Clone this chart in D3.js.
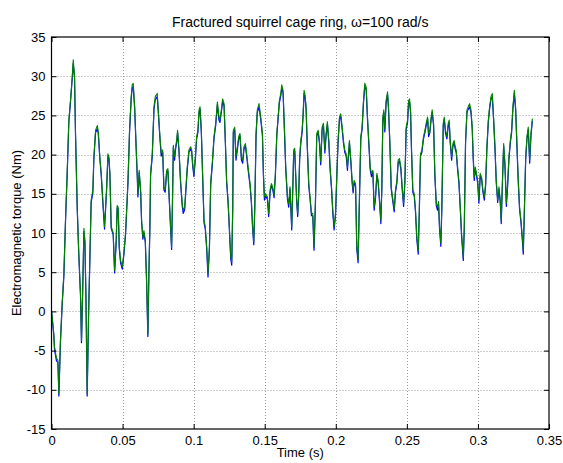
<!DOCTYPE html>
<html>
<head>
<meta charset="utf-8">
<script src="https://cdn.jsdelivr.net/npm/d3@7"></script>
<style>
  body { margin: 0; background: #fff; }
  svg text { font-family: "Liberation Sans", Arial, Helvetica, sans-serif; fill: #000; }
</style>
</head>
<body>
<svg id="chart" width="563" height="463"></svg>
<script>
// Sample times (s)
const timeS = [
  0.0000, 0.0016, 0.0021, 0.0035, 0.0045, 0.0052, 0.0063, 0.0075, 0.0087, 0.0099,
  0.0110, 0.0122, 0.0134, 0.0146, 0.0153, 0.0162, 0.0169, 0.0181, 0.0192, 0.0204,
  0.0211, 0.0218, 0.0228, 0.0235, 0.0242, 0.0251, 0.0261, 0.0270, 0.0279, 0.0291,
  0.0298, 0.0310, 0.0322, 0.0329, 0.0340, 0.0350, 0.0361, 0.0373, 0.0387, 0.0397,
  0.0404, 0.0411, 0.0420, 0.0434, 0.0444, 0.0455, 0.0462, 0.0469, 0.0477, 0.0486,
  0.0498, 0.0509, 0.0521, 0.0538, 0.0549, 0.0561, 0.0568, 0.0575, 0.0585, 0.0594,
  0.0603, 0.0608, 0.0617, 0.0627, 0.0634, 0.0643, 0.0650, 0.0660, 0.0669, 0.0678,
  0.0685, 0.0692, 0.0697, 0.0709, 0.0721, 0.0730, 0.0744, 0.0751, 0.0763, 0.0772,
  0.0782, 0.0791, 0.0800, 0.0810, 0.0819, 0.0829, 0.0838, 0.0845, 0.0852, 0.0857,
  0.0866, 0.0873, 0.0880, 0.0887, 0.0897, 0.0908, 0.0920, 0.0927, 0.0937, 0.0946,
  0.0955, 0.0967, 0.0979, 0.0986, 0.0993, 0.1002, 0.1012, 0.1021, 0.1030, 0.1038,
  0.1045, 0.1054, 0.1063, 0.1073, 0.1082, 0.1092, 0.1101, 0.1111, 0.1120, 0.1131,
  0.1143, 0.1155, 0.1167, 0.1178, 0.1185, 0.1195, 0.1204, 0.1214, 0.1223, 0.1232,
  0.1242, 0.1251, 0.1261, 0.1268, 0.1275, 0.1279, 0.1289, 0.1298, 0.1308, 0.1317,
  0.1326, 0.1336, 0.1345, 0.1354, 0.1364, 0.1373, 0.1383, 0.1397, 0.1406, 0.1415,
  0.1423, 0.1430, 0.1439, 0.1448, 0.1460, 0.1472, 0.1484, 0.1491, 0.1498, 0.1507,
  0.1519, 0.1528, 0.1538, 0.1547, 0.1556, 0.1566, 0.1575, 0.1585, 0.1594, 0.1603,
  0.1613, 0.1620, 0.1629, 0.1639, 0.1648, 0.1660, 0.1669, 0.1678, 0.1690, 0.1697,
  0.1704, 0.1711, 0.1718, 0.1725, 0.1732, 0.1739, 0.1746, 0.1754, 0.1763, 0.1770,
  0.1777, 0.1784, 0.1791, 0.1800, 0.1810, 0.1819, 0.1829, 0.1838, 0.1847, 0.1857,
  0.1866, 0.1876, 0.1885, 0.1894, 0.1904, 0.1913, 0.1923, 0.1932, 0.1941, 0.1951,
  0.1960, 0.1970, 0.1979, 0.1988, 0.1998, 0.2007, 0.2016, 0.2026, 0.2035, 0.2045,
  0.2054, 0.2063, 0.2073, 0.2082, 0.2089, 0.2096, 0.2106, 0.2115, 0.2122, 0.2129,
  0.2139, 0.2148, 0.2157, 0.2167, 0.2176, 0.2185, 0.2195, 0.2204, 0.2214, 0.2223,
  0.2232, 0.2242, 0.2251, 0.2261, 0.2270, 0.2279, 0.2289, 0.2298, 0.2308, 0.2317,
  0.2324, 0.2331, 0.2338, 0.2345, 0.2354, 0.2364, 0.2371, 0.2380, 0.2390, 0.2399,
  0.2411, 0.2420, 0.2430, 0.2439, 0.2448, 0.2458, 0.2467, 0.2477, 0.2486, 0.2495,
  0.2505, 0.2512, 0.2519, 0.2526, 0.2533, 0.2542, 0.2552, 0.2561, 0.2570, 0.2580,
  0.2587, 0.2596, 0.2606, 0.2617, 0.2627, 0.2636, 0.2646, 0.2653, 0.2662, 0.2671,
  0.2678, 0.2688, 0.2697, 0.2707, 0.2716, 0.2723, 0.2730, 0.2739, 0.2746, 0.2756,
  0.2763, 0.2772, 0.2782, 0.2791, 0.2798, 0.2805, 0.2815, 0.2824, 0.2833, 0.2840,
  0.2847, 0.2857, 0.2866, 0.2876, 0.2885, 0.2897, 0.2904, 0.2913, 0.2923, 0.2932,
  0.2941, 0.2951, 0.2960, 0.2967, 0.2974, 0.2981, 0.2988, 0.2998, 0.3007, 0.3016,
  0.3026, 0.3035, 0.3045, 0.3054, 0.3063, 0.3073, 0.3082, 0.3092, 0.3101, 0.3110,
  0.3120, 0.3129, 0.3139, 0.3148, 0.3157, 0.3164, 0.3174, 0.3181, 0.3190, 0.3200,
  0.3209, 0.3218, 0.3228, 0.3237, 0.3246, 0.3256, 0.3265, 0.3275, 0.3284, 0.3293,
  0.3303, 0.3312, 0.3319, 0.3326, 0.3336, 0.3345, 0.3354, 0.3364, 0.3373, 0.3383
];

// Torque, first trace (blue), Nm
const torqueBlue = [
  0.0, -3.0, -4.8, -6.3, -6.5, -10.8, -3.9, 0.8, 4.5, 11.7,
  17.3, 24.1, 26.8, 29.7, 31.6, 29.8, 22.5, 13.1, 7.2, 2.0,
  -4.0, 1.3, 10.2, 8.8, 2.1, -10.8, -0.4, 6.7, 13.9, 15.1,
  19.4, 22.8, 23.3, 22.7, 19.5, 17.3, 13.9, 10.5, 15.2, 19.8,
  19.5, 17.4, 10.6, 9.8, 4.9, 8.8, 13.2, 13.1, 8.0, 6.2,
  5.4, 7.2, 9.8, 16.4, 22.8, 27.2, 28.5, 28.7, 25.9, 21.5,
  17.3, 14.6, 17.7, 15.2, 11.3, 9.2, 10.0, 8.8, 3.8, -3.2,
  4.6, 10.5, 17.3, 19.8, 25.8, 27.0, 27.4, 25.5, 22.0, 19.8,
  20.3, 15.5, 15.2, 17.7, 17.9, 14.0, 10.5, 7.9, 14.7, 20.9,
  19.3, 20.7, 21.5, 22.8, 20.4, 16.4, 13.4, 12.5, 13.0, 15.6,
  18.1, 20.3, 20.7, 20.4, 18.6, 17.2, 19.4, 22.0, 22.8, 25.4,
  25.8, 22.9, 17.4, 11.3, 10.5, 7.9, 4.4, 8.0, 16.2, 18.6,
  22.0, 23.7, 26.4, 24.4, 24.1, 25.4, 26.8, 26.2, 21.6, 16.5,
  14.0, 10.6, 6.7, 5.9, 13.0, 22.8, 23.1, 19.3, 20.7, 22.0,
  22.4, 19.3, 18.9, 20.7, 21.1, 19.8, 18.1, 16.0, 13.9, 10.5,
  8.5, 13.0, 22.4, 25.4, 26.1, 24.5, 22.4, 17.3, 14.2, 14.7,
  14.3, 12.1, 15.2, 16.0, 15.6, 14.5, 17.3, 22.4, 24.5, 26.6,
  27.5, 28.5, 27.9, 22.9, 18.1, 14.3, 13.3, 15.6, 10.4, 15.2,
  20.3, 20.5, 17.3, 13.9, 12.1, 14.7, 19.4, 21.5, 22.8, 24.9,
  27.8, 27.3, 25.8, 20.7, 16.0, 14.3, 12.2, 12.2, 7.8, 13.9,
  22.4, 22.8, 21.5, 18.7, 23.2, 23.7, 20.2, 22.4, 23.9, 21.5,
  18.1, 15.6, 12.6, 10.4, 12.2, 17.0, 21.5, 24.5, 24.8, 23.2,
  21.5, 20.3, 19.8, 18.0, 19.8, 21.5, 19.0, 16.4, 15.1, 16.4,
  16.0, 7.9, 6.2, 14.7, 22.0, 23.2, 26.6, 28.7, 28.3, 24.5,
  21.5, 18.1, 17.2, 17.7, 12.9, 14.3, 17.3, 16.4, 13.9, 11.2,
  15.6, 24.5, 25.4, 22.9, 26.6, 27.7, 25.8, 21.5, 15.6, 14.3,
  12.7, 15.2, 16.4, 19.0, 19.2, 18.1, 15.6, 13.4, 16.4, 23.2,
  24.1, 26.6, 26.7, 25.4, 20.3, 15.2, 14.7, 12.6, 9.2, 7.3,
  12.2, 19.8, 20.3, 22.0, 22.8, 23.7, 24.5, 22.3, 22.8, 24.5,
  25.4, 23.7, 17.3, 13.5, 12.9, 13.7, 10.5, 8.3, 13.0, 23.7,
  24.5, 22.7, 22.0, 23.7, 24.1, 21.5, 19.3, 21.1, 21.5, 20.7,
  20.3, 18.1, 16.4, 13.0, 9.6, 6.5, 10.5, 21.5, 25.4, 25.8,
  26.1, 25.4, 23.2, 19.4, 16.7, 18.1, 17.5, 16.4, 13.8, 17.3,
  16.8, 15.2, 14.2, 16.0, 20.7, 24.1, 25.8, 27.1, 27.4, 24.5,
  20.7, 16.4, 13.9, 15.6, 13.9, 11.2, 17.3, 21.1, 18.6, 13.4,
  16.0, 19.4, 21.5, 22.8, 25.8, 27.8, 25.8, 20.7, 16.4, 13.0,
  11.3, 9.2, 7.3, 12.2, 19.4, 22.0, 23.2, 18.9, 22.4, 24.3
];

// Torque, second trace (green), Nm
const torqueGreen = [
  0.2, -2.8, -4.5, -6.0, -6.2, -10.5, -3.7, 1.0, 4.8, 12.0,
  17.6, 24.4, 27.0, 30.0, 32.1, 30.0, 22.7, 13.3, 7.4, 2.3,
  -3.7, 1.5, 10.6, 9.0, 2.3, -10.5, -0.2, 7.0, 14.2, 15.5,
  19.7, 23.1, 23.7, 23.0, 19.7, 17.6, 14.2, 10.8, 15.5, 20.1,
  19.7, 17.6, 10.8, 10.0, 5.2, 9.0, 13.5, 13.3, 8.2, 6.5,
  5.7, 7.4, 10.0, 16.7, 23.1, 27.5, 28.9, 29.1, 26.1, 21.8,
  17.6, 15.0, 18.0, 15.5, 11.6, 9.5, 10.3, 9.1, 4.0, -2.9,
  4.8, 10.8, 17.6, 20.1, 26.1, 27.4, 27.8, 25.7, 22.3, 20.2,
  20.6, 15.9, 15.5, 18.0, 18.2, 14.2, 10.8, 8.2, 15.0, 21.2,
  19.7, 21.0, 21.8, 23.1, 20.6, 16.7, 13.7, 12.9, 13.3, 15.9,
  18.4, 20.6, 21.0, 20.6, 18.9, 17.6, 19.7, 22.3, 23.1, 25.7,
  26.1, 23.1, 17.6, 11.6, 10.8, 8.2, 4.8, 8.2, 16.5, 18.9,
  22.3, 24.0, 26.7, 24.8, 24.4, 25.7, 27.1, 26.5, 21.8, 16.7,
  14.2, 10.8, 7.0, 6.3, 13.3, 23.1, 23.5, 19.7, 21.0, 22.3,
  22.7, 19.7, 19.3, 21.0, 21.4, 20.1, 18.4, 16.3, 14.2, 10.8,
  8.9, 13.3, 22.7, 25.7, 26.5, 24.8, 22.7, 17.6, 14.6, 15.0,
  14.6, 12.5, 15.5, 16.3, 15.9, 14.8, 17.6, 22.7, 24.8, 26.9,
  27.8, 28.9, 28.2, 23.1, 18.4, 14.6, 13.7, 15.9, 10.8, 15.5,
  20.6, 20.8, 17.6, 14.2, 12.5, 15.0, 19.7, 21.8, 23.1, 25.2,
  28.2, 27.6, 26.1, 21.0, 16.3, 14.6, 12.5, 12.5, 8.2, 14.2,
  22.7, 23.1, 21.8, 19.1, 23.5, 24.0, 20.6, 22.7, 24.2, 21.8,
  18.4, 15.9, 12.9, 10.8, 12.5, 17.3, 21.8, 24.8, 25.2, 23.5,
  21.8, 20.6, 20.1, 18.4, 20.1, 21.8, 19.3, 16.7, 15.5, 16.7,
  16.3, 8.2, 6.7, 15.0, 22.3, 23.5, 26.9, 29.1, 28.6, 24.8,
  21.8, 18.4, 17.6, 18.0, 13.3, 14.6, 17.6, 16.7, 14.2, 11.6,
  15.9, 24.8, 25.7, 23.3, 26.9, 28.0, 26.1, 21.8, 15.9, 14.6,
  13.1, 15.5, 16.7, 19.3, 19.5, 18.4, 15.9, 13.8, 16.7, 23.5,
  24.4, 26.9, 27.1, 25.7, 20.6, 15.5, 15.0, 12.9, 9.5, 7.8,
  12.5, 20.1, 20.6, 22.3, 23.1, 24.0, 24.8, 22.7, 23.1, 24.8,
  25.7, 24.0, 17.6, 13.8, 13.3, 14.0, 10.8, 8.7, 13.3, 24.0,
  24.8, 23.1, 22.3, 24.0, 24.4, 21.8, 19.7, 21.4, 21.8, 21.0,
  20.6, 18.4, 16.7, 13.3, 9.9, 6.9, 10.8, 21.8, 25.7, 26.1,
  26.5, 25.7, 23.5, 19.7, 17.1, 18.4, 17.8, 16.7, 14.2, 17.6,
  17.1, 15.5, 14.6, 16.3, 21.0, 24.4, 26.1, 27.4, 27.8, 24.8,
  21.0, 16.7, 14.2, 15.9, 14.2, 11.6, 17.6, 21.4, 18.9, 13.8,
  16.3, 19.7, 21.8, 23.1, 26.1, 28.2, 26.1, 21.0, 16.7, 13.3,
  11.6, 9.5, 7.8, 12.5, 19.7, 22.3, 23.5, 19.3, 22.7, 24.6
];

const xTicks = [0, 0.05, 0.1, 0.15, 0.2, 0.25, 0.3, 0.35];
const yTicks = [-15, -10, -5, 0, 5, 10, 15, 20, 25, 30, 35];
const chartTitle = "Fractured squirrel cage ring, \u03c9=100 rad/s";
const xLabel = "Time (s)";
const yLabel = "Electromagnetic torque (Nm)";

const svg = d3.select("#chart");
const plot = { left: 51.5, right: 549, top: 37, bottom: 429 };

const x = d3.scaleLinear().domain([0, 0.35]).range([plot.left, plot.right]);
const y = d3.scaleLinear().domain([-15, 35]).range([plot.bottom, plot.top]);

const fmt = d => String(+d.toFixed(2));

// dotted grid
const grid = svg.append("g").attr("class", "grid")
  .attr("stroke", "#9a9a9a").attr("stroke-width", 1).attr("stroke-dasharray", "1 2");
grid.selectAll("line.gx").data(xTicks.slice(1, -1)).join("line").attr("class", "gx")
  .attr("x1", d => Math.round(x(d)) + 0.5).attr("x2", d => Math.round(x(d)) + 0.5)
  .attr("y1", plot.top).attr("y2", plot.bottom);
grid.selectAll("line.gy").data(yTicks.slice(1, -1)).join("line").attr("class", "gy")
  .attr("y1", d => Math.round(y(d)) + 0.5).attr("y2", d => Math.round(y(d)) + 0.5)
  .attr("x1", plot.left).attr("x2", plot.right);

// torque traces
const idx = d3.range(Math.min(timeS.length, torqueBlue.length, torqueGreen.length));
const lineOf = vals => d3.line().x(i => x(timeS[i])).y(i => y(vals[i]));
svg.append("path").datum(idx)
  .attr("fill", "none").attr("stroke", "#0000ff").attr("stroke-width", 1.2)
  .attr("stroke-linejoin", "round").attr("d", lineOf(torqueBlue));
svg.append("path").datum(idx)
  .attr("fill", "none").attr("stroke", "#008000").attr("stroke-width", 1.1)
  .attr("stroke-linejoin", "round").attr("d", lineOf(torqueGreen));

// axes, ticks pointing inward on all four sides
const fontSize = "13px";
const styleAxis = g => {
  g.select(".domain").remove();
  g.selectAll(".tick line").attr("stroke", "#000");
  g.selectAll("text").attr("font-size", fontSize)
    .attr("font-family", '"Liberation Sans", Arial, sans-serif').attr("fill", "#000");
};
svg.append("g").attr("transform", `translate(0,${plot.bottom})`)
  .call(d3.axisBottom(x).tickValues(xTicks).tickFormat(fmt).tickSizeInner(-5).tickSizeOuter(0).tickPadding(7))
  .call(styleAxis);
svg.append("g").attr("transform", `translate(0,${plot.top})`)
  .call(d3.axisTop(x).tickValues(xTicks).tickFormat("").tickSizeInner(-5).tickSizeOuter(0))
  .call(styleAxis);
svg.append("g").attr("transform", `translate(${plot.left},0)`)
  .call(d3.axisLeft(y).tickValues(yTicks).tickFormat(d => String(d)).tickSizeInner(-5).tickSizeOuter(0).tickPadding(6))
  .call(styleAxis);
svg.append("g").attr("transform", `translate(${plot.right},0)`)
  .call(d3.axisRight(y).tickValues(yTicks).tickFormat("").tickSizeInner(-5).tickSizeOuter(0))
  .call(styleAxis);

// box
svg.append("rect")
  .attr("x", plot.left).attr("y", plot.top)
  .attr("width", plot.right - plot.left).attr("height", plot.bottom - plot.top)
  .attr("fill", "none").attr("stroke", "#000").attr("stroke-width", 1.2);

// title and axis labels
const midX = (plot.left + plot.right) / 2;
svg.append("text").attr("x", midX).attr("y", 27).attr("text-anchor", "middle")
  .attr("font-size", "14px").text(chartTitle);
svg.append("text").attr("x", midX).attr("y", 457).attr("text-anchor", "middle")
  .attr("font-size", fontSize).text(xLabel);
svg.append("text")
  .attr("transform", `translate(21,${(plot.top + plot.bottom) / 2}) rotate(-90)`)
  .attr("text-anchor", "middle").attr("font-size", fontSize).text(yLabel);
</script>
</body>
</html>
